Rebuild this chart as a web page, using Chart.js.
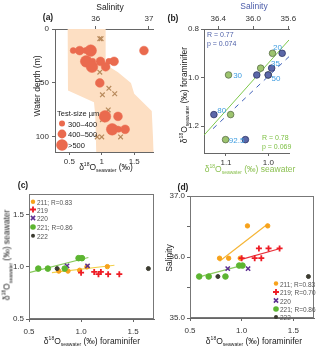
<!DOCTYPE html>
<html>
<head>
<meta charset="utf-8">
<script src="https://cdn.jsdelivr.net/npm/chart.js@4/dist/chart.umd.min.js"></script>
<style>
  body { margin:0; width:320px; height:346px; position:relative; overflow:hidden; background:#fff;
         font-family:"Liberation Sans", Arial, sans-serif; color:#222; }
  canvas { position:absolute; }
  .t { position:absolute; white-space:nowrap; font-size:8.5px; line-height:9px; transform:translate(-50%,-50%); }
  .l { transform:translate(0,-50%); }
  .r { transform:translate(-50%,-50%) rotate(-90deg); }
  .t sup, .t sub { font-size:5px; line-height:0; }
  .b { font-weight:bold; }
  .s { font-size:6.5px; line-height:7px; color:#555; }
</style>
</head>
<body>
<canvas id="ca" width="160" height="175" style="left:0;top:0"></canvas>
<canvas id="cb" width="160" height="175" style="left:160px;top:0"></canvas>
<canvas id="cc" width="160" height="171" style="left:0;top:175px"></canvas>
<canvas id="cd" width="160" height="171" style="left:160px;top:175px"></canvas>

<div class="t b" style="left:48px;top:17px">(a)</div>
<div class="t" style="left:110px;top:7px">Salinity</div>
<div class="t r" style="left:37px;top:86px">Water depth (m)</div>
<div class="t" style="left:106px;top:167px">δ<sup>18</sup>O<sub>seawater</sub> (‰)</div>
<div class="t l" style="left:57px;top:113px;font-size:7.5px">Test-size µm</div>
<div class="t l" style="left:68px;top:123.5px;font-size:7.5px">300–400</div>
<div class="t l" style="left:68px;top:134px;font-size:7.5px">400–500</div>
<div class="t l" style="left:68px;top:145px;font-size:7.5px">&gt;500</div>

<div class="t b" style="left:173px;top:18px">(b)</div>
<div class="t" style="left:254px;top:6px;color:#4C5DAA">Salinity</div>
<div class="t r" style="left:184px;top:95px">δ<sup>18</sup>O<sub>seawater</sub> (‰) foraminifer</div>
<div class="t" style="left:250px;top:169px;color:#8CC152">δ<sup>18</sup>O<sub>seawater</sub> (‰) seawater</div>
<div class="t l" style="left:207px;top:34px;font-size:7px;color:#4D5FA8">R = 0.77</div>
<div class="t l" style="left:207px;top:42.5px;font-size:7px;color:#4D5FA8">p = 0.074</div>
<div class="t l" style="left:262px;top:137px;font-size:7px;color:#7DC043">R = 0.78</div>
<div class="t l" style="left:262px;top:145.5px;font-size:7px;color:#7DC043">p = 0.069</div>

<div class="t b" style="left:23px;top:185px">(c)</div>
<div class="t r" style="left:7px;top:255px">δ<sup>18</sup>O<sub>seawater</sub> (‰) seawater</div>
<div class="t" style="left:92px;top:341px">δ<sup>18</sup>O<sub>seawater</sub> (‰) foraminifer</div>

<div class="t b" style="left:183px;top:187px">(d)</div>
<div class="t r" style="left:169px;top:258px">Salinity</div>
<div class="t" style="left:254px;top:341px">δ<sup>18</sup>O<sub>seawater</sub> (‰) foraminifer</div>

<script>
// ---- (a) foraminifer d18O by water depth ----
const aCircX     = [0.56, 0.66, 0.75, 0.83, 1.65, 0.76, 0.86, 0.98, 1.11, 1.19, 0.85, 1.06, 0.97, 1.05, 1.25, 1.16, 1.26, 1.36];
const aCircDepth = [20, 20, 20, 20, 20, 30, 30, 30, 30, 30, 35, 35, 50, 81, 81, 93, 93, 93];
const aCircSize  = [1, 2, 1, 3, 2, 3, 1, 2, 1, 2, 3, 2, 2, 3, 2, 3, 1, 2]; // 1: 300-400, 2: 400-500, 3: >500
const aCrossX     = [0.97, 0.99, 0.97, 1.11, 1.01, 1.20, 1.10, 1.01, 1.22, 0.93, 1.00, 1.29];
const aCrossDepth = [9, 9, 40, 55, 61, 60, 75, 84, 92, 100, 100, 100];
// salinity envelope (drawn on the d18O axis)
const aEnvX     = [0.475, 0.48, 0.88, 0.90, 0.915, 1.80, 1.77, 1.50, 1.45, 1.25, 1.06, 1.06];
const aEnvDepth = [0, 57, 68, 80, 114, 114, 76, 60, 50, 40, 33, 0];
const aXTicks = [0.5, 1, 1.5], aXLabels = ['0.5', '1', '1.5'];
const aSTicks = [36, 37], aSLabels = ['36', '37'];
const aYTicks = [0, 50, 100], aYLabels = ['0', '50', '100'];

// ---- (b) foraminifer vs seawater ----
const bDepth = ['20', '35', '50', '30', '80', '92.5'];
const bForam = [0.90, 0.961, 0.989, 0.989, 1.152, 1.255];
const bSw    = [0.990, 1.018, 1.000, 1.094, 1.089, 1.101];
const bSal   = [35.67, 35.79, 35.83, 35.96, 36.45, 36.09];
const bFitSwX = [1.152, 0.951], bFitSwY = [1.237, 0.845];
const bFitSalX = [36.46, 35.59], bFitSalY = [1.21, 0.913];
const bYTicks = [0.8, 1.0, 1.2], bYLabels = ['0.8', '1.0', '1.2'];
const bXTicks = [1.1, 1.0], bXLabels = ['1.1', '1.0'];
const bSTicks = [36.4, 36.0, 35.6], bSLabels = ['36.4', '36.0', '35.6'];

// ---- (c)/(d) cores ----
const cores = ['211', '219', '220', '221', '222'];
const foram = {
  '211': [0.786, 0.874, 0.986, 1.056, 1.252],
  '219': [1.0, 1.126, 1.167, 1.19, 1.26, 1.367],
  '220': [0.865, 1.062],
  '221': [0.589, 0.681, 0.843, 0.976, 1.008],
  '222': [0.77, 1.646]
};
const seawater = {
  '211': [0.96, 0.96, 0.968, 1.0, 1.003],
  '219': [0.945, 0.952, 0.93, 0.952, 0.93, 0.93],
  '220': [1.01, 1.01],
  '221': [0.984, 0.984, 0.984, 1.084, 1.084],
  '222': [0.984, 0.984]
};
const salinity = {
  '211': [35.98, 35.98, 35.98, 36.51, 36.51],
  '219': [35.98, 35.98, 36.14, 35.98, 36.14, 36.14],
  '220': [35.81, 35.81],
  '221': [35.68, 35.68, 35.68, 35.86, 35.86],
  '222': [35.68, 35.68]
};
const cLegend = ['211; R=0.83', '219', '220', '221; R=0.86', '222'];
const dLegend = ['211; R=0.83', '219; R=0.70', '220', '221; R=0.86', '222'];
const cFits = { '211': [[0.72, 1.32], [0.945, 1.016]], '221': [[0.5, 1.07], [0.945, 1.09]] };
const dFits = { '211': [[0.786, 1.252], [35.93, 36.54]], '219': [[0.998, 1.373], [35.96, 36.14]], '221': [[0.579, 1.024], [35.67, 35.87]] };
const cdXTicks = [0.5, 1.0, 1.5], cdXLabels = ['0.5', '1.0', '1.5'];
const cYTicks = [0.5, 1.0, 1.5], cYLabels = ['0.5', '1.0', '1.5'];
const dYTicks = [35, 35.5, 36, 36.5, 37], dYLabels = ['35.0', '', '36.0', '', '37.0'];

// styles
const coreStyle = {
  '211': { style: 'circle', r: 2.2, color: '#F7A21B', bw: 1 },
  '219': { style: 'cross', r: 3, color: '#EE1C25', bw: 1.8 },
  '220': { style: 'crossRot', r: 3, color: '#5C2D91', bw: 1.5 },
  '221': { style: 'circle', r: 2.8, color: '#5CB531', bw: 1 },
  '222': { style: 'circle', r: 2, color: '#3B3B30', bw: 1 }
};
const cFitColor = { '211': '#F2D04A', '221': '#86C95A' };
const dFitColor = { '211': '#F5B536', '219': '#E8313A', '221': '#8CCB5E' };
const aSizeR = [0, 3, 4.4, 5.8];
const circColor = '#EA6A4E';
const crossColor = '#B88A5C';

Chart.defaults.font.family = '"Liberation Sans", Arial, sans-serif';
Chart.defaults.font.size = 8;
Chart.defaults.color = '#333';

function axis(o) {
  return {
    type: 'linear', position: o.pos, min: o.min, max: o.max, reverse: !!o.rev,
    grid: { drawOnChartArea: false, drawTicks: true, tickLength: 3, color: '#666' },
    border: { display: true, color: '#666', width: 1 },
    ticks: { color: o.color || '#333', padding: o.pad != null ? o.pad : 2, autoSkip: false, maxRotation: 0,
      callback: v => { const i = o.ticks.indexOf(v); return i >= 0 ? o.labels[i] : ''; } },
    afterBuildTicks: s => { s.ticks = o.ticks.map(v => ({ value: v })); },
    afterFit: s => { if (s.isHorizontal()) s.height = o.size; else s.width = o.size; }
  };
}

function drawMark(ctx, m, x, y) {
  ctx.save();
  ctx.fillStyle = m.color; ctx.strokeStyle = m.color; ctx.lineWidth = m.bw || 1;
  ctx.beginPath();
  if (m.style === 'circle') {
    ctx.arc(x, y, m.r, 0, Math.PI * 2); ctx.fill();
  } else if (m.style === 'cross') {
    ctx.moveTo(x - m.r, y); ctx.lineTo(x + m.r, y); ctx.moveTo(x, y - m.r); ctx.lineTo(x, y + m.r); ctx.stroke();
  } else {
    const d = m.r * 0.7071;
    ctx.moveTo(x - d, y - d); ctx.lineTo(x + d, y + d); ctx.moveTo(x + d, y - d); ctx.lineTo(x - d, y + d); ctx.stroke();
  }
  ctx.restore();
}

function marksPlugin(list, frame) {
  return {
    id: 'marks',
    afterDraw(chart) {
      const ctx = chart.ctx;
      if (frame) {
        const a = chart.chartArea;
        ctx.save(); ctx.strokeStyle = '#777'; ctx.lineWidth = 1;
        ctx.strokeRect(a.left + 0.5, a.top + 0.5, a.right - a.left - 1, a.bottom - a.top - 1);
        ctx.restore();
      }
      list.forEach(m => drawMark(ctx, m, m.x, m.y));
    }
  };
}

function opts(pad, scales) {
  return {
    responsive: false, animation: false, layout: { padding: pad },
    plugins: { legend: { display: false }, tooltip: { enabled: false } },
    scales
  };
}

const pts = (xs, ys) => xs.map((x, i) => ({ x, y: ys[i] }));

function addText(txt, x, y, css, cls) {
  const d = document.createElement('div');
  d.className = 't ' + (cls || '');
  d.textContent = txt;
  d.style.cssText = `left:${x}px;top:${y}px;` + (css || '');
  document.body.appendChild(d);
}

// ---------- (a) ----------
new Chart(document.getElementById('ca'), {
  type: 'scatter',
  data: { datasets: [
    { data: pts(aCircX, aCircDepth), pointStyle: 'circle',
      pointRadius: c => aSizeR[aCircSize[c.dataIndex]],
      backgroundColor: circColor, borderColor: circColor, borderWidth: 0.5, order: 1 },
    { data: pts(aCrossX, aCrossDepth), pointStyle: 'crossRot', pointRadius: 3.3,
      borderColor: crossColor, borderWidth: 1.2, order: 2 },
    { type: 'line', data: pts(aEnvX, aEnvDepth), fill: 'shape', backgroundColor: '#FDDFC3',
      borderWidth: 0, pointRadius: 0, tension: 0, order: 3 }
  ]},
  options: opts({ left: 0, right: 3, top: 0, bottom: 0 }, {
    x: axis({ pos: 'bottom', min: 0.28, max: 1.80, ticks: aXTicks, labels: aXLabels, size: 23 }),
    x2: axis({ pos: 'top', min: 35.236, max: 37.09, ticks: aSTicks, labels: aSLabels, size: 29 }),
    y: axis({ pos: 'left', min: 0, max: 114, rev: true, ticks: aYTicks, labels: aYLabels, size: 55, pad: 3 })
  }),
  plugins: [marksPlugin([
    { style: 'circle', r: 3, color: circColor, x: 62, y: 123.5 },
    { style: 'circle', r: 4.4, color: circColor, x: 62, y: 134 },
    { style: 'circle', r: 5.8, color: circColor, x: 62, y: 145 }
  ], false)]
});

// ---------- (b) ----------
const chB = new Chart(document.getElementById('cb'), {
  type: 'scatter',
  data: { datasets: [
    { data: pts(bSal, bForam), xAxisID: 'x2', pointRadius: 3.3, backgroundColor: '#5B67A8',
      borderColor: '#2E3566', borderWidth: 0.8, order: 1 },
    { data: pts(bSw, bForam), pointRadius: 3.3, backgroundColor: '#9DC46E',
      borderColor: '#5C6E4A', borderWidth: 0.8, order: 2 },
    { data: pts(bFitSalX, bFitSalY), xAxisID: 'x2', showLine: true, pointRadius: 0,
      borderColor: '#4060B8', borderWidth: 1, borderDash: [5, 5], order: 3 },
    { data: pts(bFitSwX, bFitSwY), showLine: true, pointRadius: 0,
      borderColor: '#7DC84B', borderWidth: 1, order: 4 }
  ]},
  options: opts({ left: 0, right: 31, top: 0, bottom: 0 }, {
    x: axis({ pos: 'bottom', min: 0.951, max: 1.152, rev: true, ticks: bXTicks, labels: bXLabels, size: 22 }),
    x2: axis({ pos: 'top', min: 35.592, max: 36.563, rev: true, ticks: bSTicks, labels: bSLabels, size: 29 }),
    y: axis({ pos: 'left', min: 0.8, max: 1.31, rev: true, ticks: bYTicks, labels: bYLabels, size: 44 })
  })
});
// depth labels next to the points
const bLabelOn = ['g', 'b', 'b', 'g', 'b', 'g'];
const bLabelDx = [0.6, -0.7, 3.4, 4.6, 3.3, 3.3];
const bLabelDy = [-6, -5, 3, 0, -4.3, 0];
bDepth.forEach((d, i) => {
  const px = bLabelOn[i] === 'b' ? chB.scales.x2.getPixelForValue(bSal[i]) : chB.scales.x.getPixelForValue(bSw[i]);
  const py = chB.scales.y.getPixelForValue(bForam[i]);
  addText(d, 160 + px + bLabelDx[i], py + bLabelDy[i], 'color:#3D9CE0;font-size:8px', 'l');
});

// ---------- (c) and (d) ----------
function coreSets(ys, fits, fitColors) {
  const sets = [];
  Object.keys(fits).forEach(k => sets.push({
    data: pts(fits[k][0], fits[k][1]), showLine: true, pointRadius: 0,
    borderColor: fitColors[k], borderWidth: 1.2, order: 10
  }));
  cores.forEach((k, i) => {
    const s = coreStyle[k];
    sets.push({
      data: pts(foram[k], ys[k]), pointStyle: s.style, pointRadius: s.r,
      backgroundColor: s.color, borderColor: s.color, borderWidth: s.bw, order: 5 - i
    });
  });
  return sets;
}
function legendMarks(x, ys) {
  return cores.map((k, i) => Object.assign({}, coreStyle[k], { x, y: ys[i] }));
}

const cLegY = [26.7, 34.5, 43, 52, 60.7];
new Chart(document.getElementById('cc'), {
  type: 'scatter',
  data: { datasets: coreSets(seawater, cFits, cFitColor) },
  options: opts({ left: 0, right: 6, top: 19, bottom: 0 }, {
    x: axis({ pos: 'bottom', min: 0.5, max: 1.7, ticks: cdXTicks, labels: cdXLabels, size: 27, pad: 5 }),
    y: axis({ pos: 'left', min: 0.5, max: 1.7, ticks: cYTicks, labels: cYLabels, size: 29 })
  }),
  plugins: [marksPlugin(legendMarks(33, cLegY), true)]
});
cLegend.forEach((t, i) => addText(t, 37, 175 + cLegY[i], '', 'l s'));

const dLegY = [108.5, 117, 125.5, 134, 142];
new Chart(document.getElementById('cd'), {
  type: 'scatter',
  data: { datasets: coreSets(salinity, dFits, dFitColor) },
  options: opts({ left: 0, right: 6, top: 21, bottom: 0 }, {
    x: axis({ pos: 'bottom', min: 0.5, max: 1.7, ticks: cdXTicks, labels: cdXLabels, size: 28, pad: 5 }),
    y: axis({ pos: 'left', min: 35, max: 37, ticks: dYTicks, labels: dYLabels, size: 30 })
  }),
  plugins: [marksPlugin(legendMarks(116, dLegY), true)]
});
dLegend.forEach((t, i) => addText(t, 280, 175 + dLegY[i], '', 'l s'));
</script>
</body>
</html>
